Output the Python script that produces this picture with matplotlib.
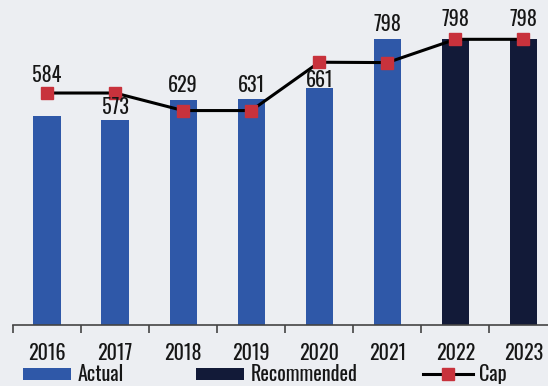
import matplotlib
matplotlib.use("Agg")
import matplotlib.pyplot as plt
from matplotlib.patches import Patch
from matplotlib.lines import Line2D

years = ["2016", "2017", "2018", "2019", "2020", "2021", "2022", "2023"]
bar_values = [584, 573, 629, 631, 661, 798, 798, 798]
bar_kind = ["Actual"] * 6 + ["Recommended"] * 2
cap_values = [648, 648, 599, 599, 734, 733, 798, 798]

# label offset above bar top, in pixels (style only)
label_offsets = [41, 12.5, 14.5, 14.5, 8.5, 15, 20, 20]

c_actual = "#2f58a8"
c_rec = "#121a38"
c_cap = "#c8323c"
bg = "#eceef2"
txt_c = "#161616"
FONT = ['Oswald', 'Barlow Condensed', 'DejaVu Sans']
FS = 14.5
FW = 500

plt.rcParams['font.family'] = FONT

W, H = 548, 386
fig = plt.figure(figsize=(W / 100, H / 100), dpi=100, facecolor=bg)
ax = fig.add_axes([13 / W, (H - 325) / H, 1 - 13 / W, 325 / H])
ax.set_facecolor(bg)

x = list(range(len(years)))
colors = [c_actual if k == "Actual" else c_rec for k in bar_kind]
ax.bar(x, bar_values, width=0.4, color=colors, zorder=2)
ax.plot(x, cap_values, color="black", lw=2.2, marker="s", markersize=8,
        markerfacecolor=c_cap, markeredgecolor=c_cap, zorder=3)

for i, v in enumerate(bar_values):
    ax.annotate(str(v), xy=(i, v), xytext=(0, label_offsets[i] * 0.72),
                textcoords="offset points", ha="center", va="center",
                fontsize=FS, fontweight=FW, color=txt_c, zorder=4)

ax.set_xlim(-0.5, (W - 47.5) / 68)
ax.set_ylim(0, 325 / 0.358)
for s in ["top", "right", "left"]:
    ax.spines[s].set_visible(False)
ax.spines["bottom"].set_color("#444444")
ax.spines["bottom"].set_linewidth(1.2)
ax.set_yticks([])
ax.set_xticks([i - 0.5 for i in range(len(years))])
ax.set_xticklabels([])
ax.tick_params(axis="x", direction="out", length=6, width=1.2, color="#444444")
for i, yr in enumerate(years):
    ax.annotate(yr, xy=(i, 0), xytext=(0, -28 * 0.72), textcoords="offset points",
                ha="center", va="center", fontsize=FS, fontweight=FW, color=txt_c)

leg_y = 1 - 374 / H
specs = [
    (Patch(facecolor=c_actual, label="Actual"), 23 / W, 2.4),
    (Patch(facecolor=c_rec, label="Recommended"), 196 / W, 2.4),
    (Line2D([0], [0], color="black", lw=2.2, marker="s", markersize=8,
            markerfacecolor=c_cap, markeredgecolor=c_cap, label="Cap"), 423 / W, 2.5),
]
for h, lx, hl in specs:
    fig.legend(handles=[h], loc="center left", bbox_to_anchor=(lx, leg_y),
               frameon=False, handlelength=hl, handleheight=0.6,
               handletextpad=0.3, borderpad=0, borderaxespad=0,
               prop={'family': FONT, 'size': FS, 'weight': FW}, labelcolor=txt_c)

fig.savefig("out.png", dpi=100, facecolor=bg)
